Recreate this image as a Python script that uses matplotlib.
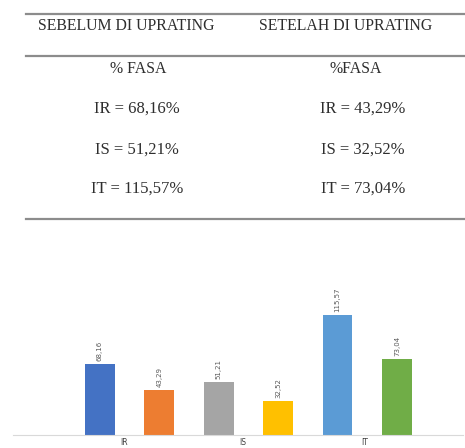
import matplotlib
matplotlib.use("Agg")
import matplotlib.pyplot as plt
from matplotlib.lines import Line2D

# table values
header_cols = ["SEBELUM DI UPRATING", "SETELAH DI UPRATING"]
sub_head = ["% FASA", "%FASA"]
rows_before = ["IR = 68,16%", "IS = 51,21%", "IT = 115,57%"]
rows_after = ["IR = 43,29%", "IS = 32,52%", "IT = 73,04%"]

# bar values
categories = ["IR", "IS", "IT"]
values = [68.16, 43.29, 51.21, 32.52, 115.57, 73.04]
value_labels = ["68,16", "43,29", "51,21", "32,52", "115,57", "73,04"]
bar_colors = ["#4472C4", "#ED7D31", "#A5A5A5", "#FFC000", "#5B9BD5", "#70AD47"]

W, H = 465, 448
fig = plt.figure(figsize=(W / 100, H / 100), dpi=100)
fig.patch.set_facecolor("white")

def fx(px):
    return px / W

def fy(py):
    return 1 - py / H

serif = "Liberation Serif"
txt_color = "#2e2e2e"
rule_color = "#8c8c8c"

# table rules
for y in (14, 56, 219):
    fig.add_artist(Line2D([fx(26), fx(465)], [fy(y), fy(y)], color=rule_color, lw=1.6))

fs_head = 11.4
fs_row = 12
fig.text(fx(126), fy(26), header_cols[0], ha="center", va="center",
         family=serif, fontsize=fs_head, color=txt_color)
fig.text(fx(346), fy(26), header_cols[1], ha="center", va="center",
         family=serif, fontsize=fs_head, color=txt_color)
fig.text(fx(138), fy(69), sub_head[0], ha="center", va="center",
         family=serif, fontsize=fs_head, color=txt_color)
fig.text(fx(356), fy(69), sub_head[1], ha="center", va="center",
         family=serif, fontsize=fs_head, color=txt_color)
for y, a, b in zip((109, 150, 189), rows_before, rows_after):
    fig.text(fx(137), fy(y), a, ha="center", va="center",
             family=serif, fontsize=fs_row, color=txt_color)
    fig.text(fx(363), fy(y), b, ha="center", va="center",
             family=serif, fontsize=fs_row, color=txt_color)

# bar chart
ax = fig.add_axes([fx(13), 1 - 435 / H, 450 / W, 145 / H])
x = list(range(len(values)))
ax.bar(x, values, width=0.5, color=bar_colors)
for xi, v, lab in zip(x, values, value_labels):
    ax.text(xi, v + 3, lab, rotation=90, ha="center", va="bottom",
            fontsize=5, color="#595959")

ax.set_xlim(-1.46, 6.11)
ax.set_ylim(0, 140)
ax.set_xticks([0.4, 2.4, 4.45])
ax.set_xticklabels(categories, fontsize=5.5, color="#404040")
ax.tick_params(axis="x", length=0, pad=2.5)
ax.set_yticks([])
for s in ("top", "right", "left"):
    ax.spines[s].set_visible(False)
ax.spines["bottom"].set_color("#d9d9d9")
ax.spines["bottom"].set_linewidth(0.8)
ax.patch.set_alpha(0)

fig.savefig("out.png", dpi=100, facecolor="white")
